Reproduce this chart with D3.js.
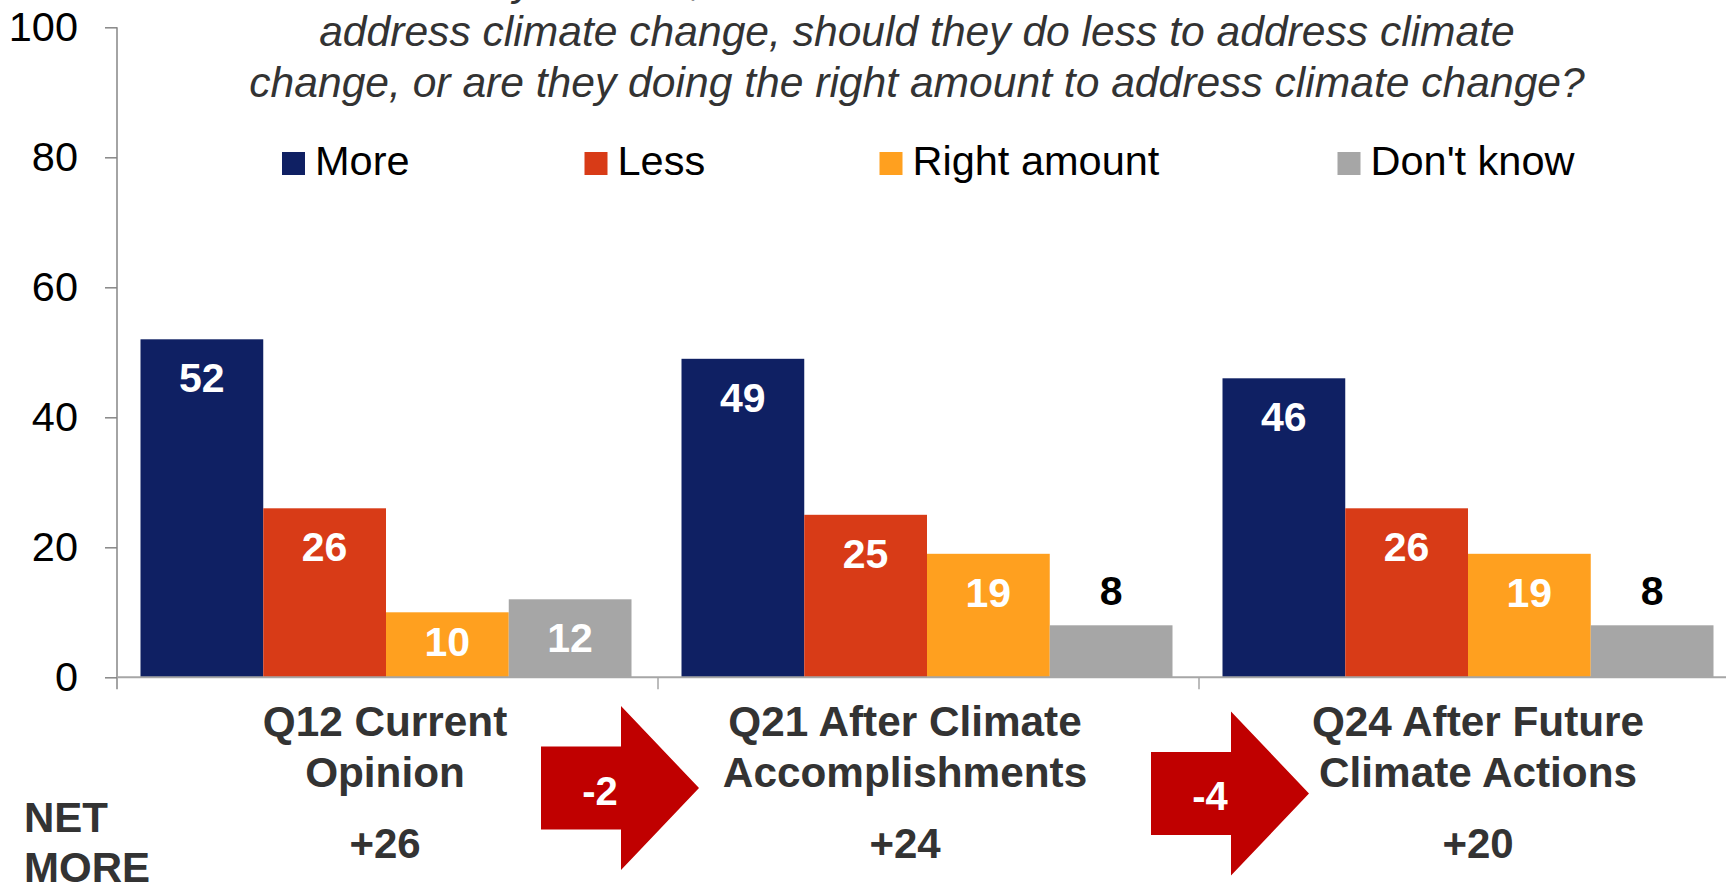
<!DOCTYPE html>
<html>
<head>
<meta charset="utf-8">
<script src="https://cdn.jsdelivr.net/npm/d3@7"></script>
<style>
  html, body { margin: 0; padding: 0; background: #ffffff; overflow: hidden; }
  svg { display: block; }
  text { font-family: "Liberation Sans", Arial, Helvetica, sans-serif; }
</style>
</head>
<body>
<svg id="chart" width="1726" height="882"></svg>
<script>
// ---------------- DATA ----------------
const titleLines = [
  "In your view, should President Biden do more to",
  "address climate change, should they do less to address climate",
  "change, or are they doing the right amount to address climate change?"
];
const categories = ["Q12 Current Opinion", "Q21 After Climate Accomplishments", "Q24 After Future Climate Actions"];
const categoryLabelLines = [
  ["Q12 Current", "Opinion"],
  ["Q21 After Climate", "Accomplishments"],
  ["Q24 After Future", "Climate Actions"]
];
const seriesNames = ["More", "Less", "Right amount", "Don't know"];
const moreValues = [52, 49, 46];
const lessValues = [26, 25, 26];
const rightAmountValues = [10, 19, 19];
const dontKnowValues = [12, 8, 8];
const netMoreLabels = ["+26", "+24", "+20"];
const netChangeLabels = ["-2", "-4"];
const netTitleLines = ["NET", "MORE"];
const yTickValues = [0, 20, 40, 60, 80, 100];

// ---------------- STYLE / LAYOUT ----------------
const seriesColors = ["#0f2063", "#d83b17", "#ffa01f", "#a6a6a6"];
const seriesValues = [moreValues, lessValues, rightAmountValues, dontKnowValues];
const W = 1726, H = 882;
const plotLeft = 117, plotTop = 27.3, plotBottom = 677.3, bandW = 541;
const groupPad = 23.5, groupInner = 491;

const svg = d3.select("#chart");
svg.append("rect").attr("width", W).attr("height", H).attr("fill", "#fff");

const x0 = d3.scaleBand().domain(categories).range([plotLeft, plotLeft + bandW * categories.length]).padding(0);
const x1 = d3.scaleBand().domain(seriesNames).range([groupPad, groupPad + groupInner]).padding(0);
const y = d3.scaleLinear().domain([0, 100]).range([plotBottom, plotTop]);

// ---- y axis ----
const yAxis = d3.axisLeft(y).tickValues(yTickValues).tickSize(12).tickPadding(27).tickFormat(d3.format("d"));
const gy = svg.append("g").attr("transform", `translate(${plotLeft},0)`).call(yAxis);
gy.select(".domain").attr("stroke", "#868686").attr("stroke-width", 1.5)
  .attr("d", `M0,${plotTop}V${plotBottom + 12}`);
gy.selectAll(".tick line").attr("stroke", "#868686").attr("stroke-width", 1.5);
gy.selectAll(".tick text").attr("font-size", 41.5).attr("fill", "#000")
  .attr("font-family", "'Liberation Sans', Arial, sans-serif");

// ---- bars ----
const rows = [];
categories.forEach((c, i) => {
  seriesNames.forEach((s, j) => rows.push({ cat: c, series: s, idx: j, value: seriesValues[j][i] }));
});

const barG = svg.append("g");
barG.selectAll("rect").data(rows).enter().append("rect")
  .attr("x", d => x0(d.cat) + x1(d.series))
  .attr("y", d => y(d.value))
  .attr("width", x1.bandwidth())
  .attr("height", d => y(0) - y(d.value))
  .attr("fill", d => seriesColors[d.idx]);

// ---- x baseline + separators ----
const xAxis = d3.axisBottom(x0).tickSize(0).tickFormat("");
const gx = svg.append("g").attr("transform", `translate(0,${plotBottom})`).call(xAxis);
gx.select(".domain").attr("stroke", "#a6a6a6").attr("stroke-width", 2)
  .attr("d", `M${plotLeft},0H${W}`);
gx.selectAll(".tick").remove();
svg.append("g").selectAll("line").data(categories.slice(1)).enter().append("line")
  .attr("x1", d => x0(d)).attr("x2", d => x0(d))
  .attr("y1", plotBottom).attr("y2", plotBottom + 12)
  .attr("stroke", "#a6a6a6").attr("stroke-width", 1.5);

// ---- value labels ----
svg.append("g").selectAll("text").data(rows).enter().append("text")
  .attr("x", d => x0(d.cat) + x1(d.series) + x1.bandwidth() / 2)
  .attr("y", d => {
    const top = y(d.value);
    if (d.value < 9) return top - 20;
    return Math.min(top + 53, y(0) - 21);
  })
  .attr("text-anchor", "middle")
  .attr("font-size", 41).attr("font-weight", "bold")
  .attr("fill", d => d.value < 9 ? "#000" : "#fff")
  .text(d => d.value);

// ---- title ----
svg.append("g").selectAll("text").data(titleLines).enter().append("text")
  .attr("x", 917).attr("y", (d, i) => -5 + i * 51)
  .attr("text-anchor", "middle")
  .attr("font-size", 42.6).attr("font-style", "italic").attr("fill", "#333")
  .text(d => d);

// ---- legend ----
const legendX = [282, 584.5, 879.5, 1337.5];
const lg = svg.append("g").selectAll("g").data(seriesNames).enter().append("g")
  .attr("transform", (d, i) => `translate(${legendX[i]},0)`);
lg.append("rect").attr("x", 0).attr("y", 152).attr("width", 23).attr("height", 23)
  .attr("fill", (d, i) => seriesColors[i]);
lg.append("text").attr("x", 33).attr("y", 175).attr("font-size", 41.5).attr("fill", "#000").text(d => d);

// ---- category labels ----
const labelOffsets = [-2.5, -23.5, 8.5];
const catG = svg.append("g").selectAll("g").data(categories).enter().append("g")
  .attr("transform", (d, i) => `translate(${x0(d) + x0.bandwidth() / 2 + labelOffsets[i]},0)`);
catG.selectAll("text.cl").data((d, i) => categoryLabelLines[i]).enter().append("text")
  .attr("class", "cl")
  .attr("x", 0).attr("y", (d, k) => 736 + k * 50.5)
  .attr("text-anchor", "middle").attr("font-size", 42.3).attr("font-weight", "bold").attr("fill", "#333")
  .text(d => d);
catG.append("text").attr("x", 0).attr("y", 857.5)
  .attr("text-anchor", "middle").attr("font-size", 42).attr("font-weight", "bold").attr("fill", "#333")
  .text((d, i) => netMoreLabels[i]);

// ---- NET MORE ----
svg.append("g").selectAll("text").data(netTitleLines).enter().append("text")
  .attr("x", 24).attr("y", (d, i) => 832 + i * 49.5)
  .attr("font-size", 42).attr("font-weight", "bold").attr("fill", "#333")
  .text(d => d);

// ---- change arrows ----
const arrowPos = [{ x: 541, cy: 788 }, { x: 1151, cy: 793.5 }];
const bodyW = 80, bodyH = 41.5, headW = 78, headH = 82;
const arrowG = svg.append("g").selectAll("g").data(netChangeLabels).enter().append("g")
  .attr("transform", (d, i) => `translate(${arrowPos[i].x},${arrowPos[i].cy})`);
arrowG.append("path")
  .attr("d", d3.line()([[0, -bodyH], [bodyW, -bodyH], [bodyW, -headH], [bodyW + headW, 0],
                        [bodyW, headH], [bodyW, bodyH], [0, bodyH]]) + "Z")
  .attr("fill", "#c00000");
arrowG.append("text").attr("x", 59).attr("y", 16.5)
  .attr("text-anchor", "middle").attr("font-size", 40).attr("font-weight", "bold").attr("fill", "#fff")
  .text(d => d);
</script>
</body>
</html>
